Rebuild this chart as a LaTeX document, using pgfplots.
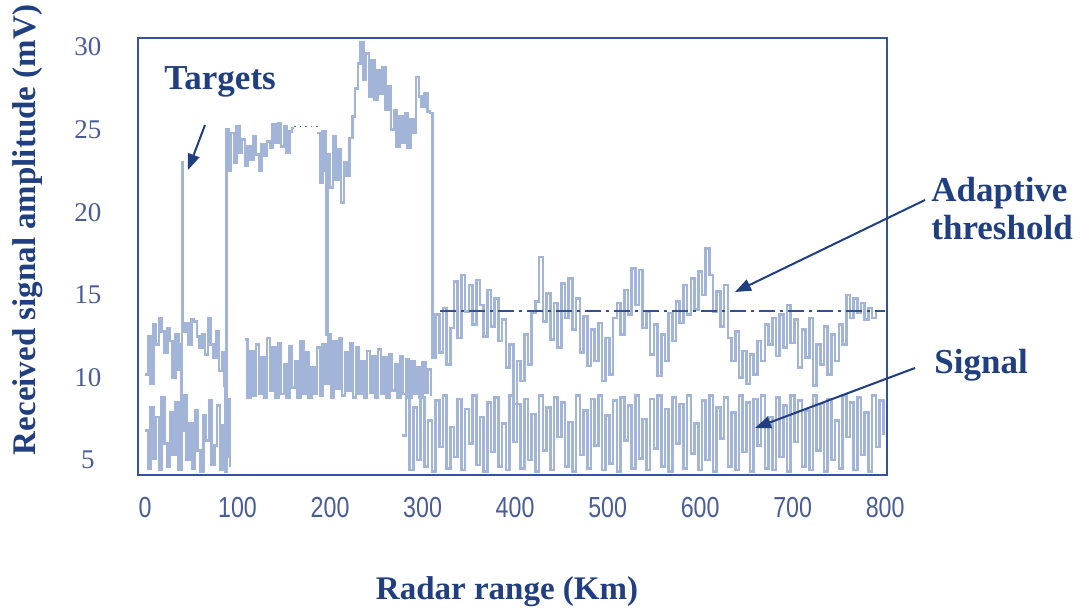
\documentclass[border=0pt]{standalone}
\usepackage{fontspec}
\setmainfont{Liberation Serif}
\newfontfamily\tickfont[FakeStretch=0.8]{Liberation Sans}
\usepackage{xcolor}
\usepackage{tikz}
\usetikzlibrary{arrows.meta}
\usepackage{pgfplots}
\pgfplotsset{compat=1.18}

\definecolor{navy}{HTML}{1F3F80}
\definecolor{framecol}{HTML}{3452A0}
\definecolor{ticktext}{HTML}{485C98}
\definecolor{trace}{HTML}{A3B4D9}
\definecolor{thrline}{HTML}{34508F}

\begin{document}
\begin{tikzpicture}
% page = 1081 x 609 px, 1 px = 0.5 pt, axis box from px (138,38) to (887,475)
\path[use as bounding box] (-69pt,-67pt) rectangle (471.5pt,237.5pt);
\begin{axis}[
  scale only axis,
  width=374.5pt, height=218.5pt,
  xmin=-7.6, xmax=802, ymin=4.1, ymax=30.55,
  xtick={0,100,...,800}, ytick={5,10,...,30},
  major tick length=0pt,
  axis line style={draw=framecol, line width=1pt},
  xticklabel style={anchor=center, yshift=-16.5pt, text=ticktext, font=\tickfont\fontsize{14.5}{16}\selectfont},
  yticklabel style={anchor=center, xshift=-25pt, text=ticktext, font=\fontsize{13.5}{15}\selectfont},
  /pgf/number format/assume math mode=true,
  xlabel={Radar range (Km)},
  ylabel={Received signal amplitude (mV)},
  label style={text=navy, font=\bfseries\fontsize{16.5}{19}\selectfont},
  xlabel style={at={(axis description cs:0.4927,-0.2677)}, anchor=center},
  ylabel style={at={(axis description cs:-0.1469,0.5606)}, anchor=center},
  clip=false,
  noise/.style={const plot, draw=trace, line width=1.3pt, mark=none},
]
% signal, near range
\addplot[noise] coordinates {(0,6.8)(3,4.5)(6,8.2)(9,5.1)(12,7.6)(15,4.4)(18,8.8)(21,6.0)(24,4.6)(27,7.9)
 (30,5.3)(33,8.5)(36,4.4)(39,6.8)(42,8.9)(45,5.0)(48,7.2)(51,4.5)(54,8.0)(57,5.6)(60,4.3)(63,7.7)
 (66,6.2)(69,8.6)(72,4.7)(75,5.9)(78,8.3)(81,4.4)(84,7.1)(87,5.2)(90,8.7)(92,4.6)};
% signal, extended target
\addplot[noise] coordinates {(108,12.3)(111,8.8)(114,11.6)(117,8.9)(120,12.0)(123,9.0)(126,11.2)(129,8.8)
 (132,12.4)(135,9.2)(138,11.8)(141,8.8)(144,12.1)(147,9.0)(150,10.8)(153,8.8)(156,11.9)(159,9.4)
 (162,11.0)(165,8.8)(168,12.2)(171,9.0)(174,11.5)(177,8.8)(180,10.6)(183,9.0)(186,11.8)(189,8.9)
 (192,12.0)(195,9.6)(198,12.6)(201,8.8)(204,12.2)(207,9.3)(210,12.4)(213,8.9)(216,11.5)(219,9.2)
 (222,12.1)(225,8.8)(228,11.8)(231,9.0)(234,11.0)(237,8.8)(240,11.6)(243,9.1)(246,11.3)(249,8.8)
 (252,11.7)(255,9.0)(258,11.2)(261,8.8)(264,11.4)(267,9.2)(270,10.8)(273,8.8)(276,11.3)(279,9.0)
 (282,11.1)(285,8.8)(288,11.0)(291,9.0)(294,10.6)(297,8.8)(300,10.9)(303,9.1)(306,10.5)(309,8.9)};
% signal, far range
\addplot[noise] coordinates {(278,6.5)(282,8.9)(286,4.4)(290,8.2)(294,5.0)(298,8.8)(302,4.6)(306,7.4)
 (310,4.3)(314,8.6)(318,5.8)(322,8.9)(326,4.5)(330,7.0)(334,5.2)(338,8.7)(342,4.4)(346,8.1)
 (350,6.0)(354,8.9)(358,4.7)(362,7.6)(366,4.3)(370,8.5)(374,5.5)(378,8.8)(382,4.6)(386,7.2)
 (390,4.4)(394,8.9)(398,6.1)(402,8.4)(406,4.5)(410,8.7)(414,5.0)(418,7.8)(422,4.3)(426,8.9)
 (430,5.6)(434,8.2)(438,4.4)(442,8.8)(446,6.4)(450,8.5)(454,4.6)(458,7.3)(462,4.3)(466,8.9)
 (470,5.3)(474,8.0)(478,4.5)(482,8.7)(486,5.9)(490,8.9)(494,4.4)(498,7.7)(502,4.8)(506,8.6)
 (510,4.3)(514,8.8)(518,6.2)(522,8.3)(526,4.5)(530,8.9)(534,5.1)(538,7.5)(542,4.4)(546,8.7)
 (550,5.7)(554,8.9)(558,4.6)(562,8.1)(566,4.3)(570,8.8)(574,6.0)(578,8.4)(582,4.5)(586,8.9)
 (590,5.4)(594,7.2)(598,4.4)(602,8.6)(606,5.0)(610,8.9)(614,4.3)(618,8.2)(622,6.3)(626,8.8)
 (630,4.6)(634,7.9)(638,4.4)(642,8.9)(646,5.5)(650,8.5)(654,4.3)(658,8.7)(662,5.9)(666,8.9)
 (670,4.5)(674,7.6)(678,4.4)(682,8.8)(686,5.2)(690,8.3)(694,4.3)(698,8.9)(702,6.1)(706,8.6)
 (710,4.6)(714,8.0)(718,4.4)(722,8.9)(726,5.6)(730,8.4)(734,4.3)(738,8.7)(742,5.0)(746,7.4)
 (750,4.5)(754,8.9)(758,6.4)(762,8.5)(766,4.4)(770,8.8)(774,5.3)(778,7.9)(782,4.3)(786,8.9)
 (790,5.8)(794,8.6)(798,6.5)};
% threshold trace, near range with the two targets
\addplot[noise] coordinates {(0,10.2)(3,12.5)(6,9.6)(9,13.2)(12,12.0)(15,13.6)(18,12.8)(21,11.5)(24,13.0)
 (27,12.2)(30,10.0)(33,12.6)(36,10.5)(39,12.0)(39.5,4.4)(40,23.0)(41,12.8)(44,13.3)(47,12.0)
 (50,13.5)(53,13.4)(56,12.5)(59,11.8)(62,12.6)(65,11.4)(68,13.6)(71,12.0)(74,11.2)(77,12.8)
 (80,10.4)(83,11.5)(86,9.5)(87,4.3)(88,25.0)(90,22.5)(93,24.8)(96,23.0)(99,25.2)(102,23.6)
 (105,24.4)(108,22.8)(111,24.0)(114,23.2)(117,24.6)(120,23.5)(123,22.5)(126,24.1)(129,23.4)
 (132,24.3)(135,23.9)(138,25.3)(141,24.2)(144,25.4)(147,24.0)(150,25.2)(153,23.6)(156,24.9)
 (159,25.1)(161,25.1)};
\addplot[sharp plot, draw=trace!60!black, line width=0.8pt, dotted, mark=none] coordinates {(161,25.2)(190,25.2)};
% threshold trace, extended target and far range
\addplot[noise] coordinates {(186,24.8)(189,21.8)(192,24.9)(195,22.5)(196,12.6)(197,23.5)(200,21.5)
 (203,24.6)(206,22.0)(209,23.8)(212,20.6)(215,23.0)(218,22.2)(221,24.5)(224,25.8)(227,27.5)
 (230,29.0)(233,30.3)(236,28.0)(239,29.6)(242,27.0)(245,29.2)(248,26.8)(251,28.6)(254,27.2)
 (257,28.8)(260,26.2)(263,27.6)(266,25.0)(269,26.2)(272,24.0)(275,25.8)(278,24.2)(281,26.0)
 (284,23.9)(287,25.6)(290,24.8)(293,28.2)(296,27.0)(299,26.4)(302,27.2)(305,26.1)(308,26.0)
 (311,11.2)(314,13.8)(318,11.5)(322,14.2)(326,10.8)(330,13.0)(334,15.8)(338,12.4)(342,16.2)
 (346,14.0)(350,15.6)(354,13.2)(358,15.9)(362,14.4)(366,12.5)(370,15.3)(374,13.1)(378,14.8)
 (382,12.2)(386,13.5)(390,10.6)(394,12.0)(398,8.4)(402,11.0)(406,9.8)(410,12.6)(414,10.8)
 (418,13.9)(422,14.6)(426,17.3)(430,13.4)(434,15.1)(438,12.3)(442,14.5)(446,11.8)(450,15.7)
 (454,13.6)(458,16.0)(462,12.9)(466,14.8)(470,11.5)(474,13.7)(478,10.7)(482,12.9)(486,11.0)
 (490,13.3)(494,9.8)(498,12.4)(502,10.2)(506,13.6)(510,14.5)(514,12.6)(518,15.3)(522,13.8)
 (526,16.6)(530,14.4)(534,16.5)(538,13.0)(542,14.0)(546,11.4)(550,13.2)(554,10.1)(558,12.6)
 (562,11.0)(566,13.9)(570,12.2)(574,14.6)(578,13.3)(582,15.6)(586,13.8)(590,16.0)(594,14.1)
 (598,16.4)(602,15.0)(606,17.8)(610,16.2)(614,14.0)(618,15.2)(622,13.1)(626,15.6)(630,12.4)
 (634,11.0)(638,12.8)(642,10.0)(646,11.6)(650,9.6)(654,11.4)(658,10.2)(662,12.2)(666,11.0)
 (670,13.2)(674,12.0)(678,13.6)(682,11.3)(686,13.8)(690,11.8)(694,14.4)(698,12.1)(702,13.5)
 (706,10.6)(710,12.9)(714,11.2)(718,13.6)(722,9.5)(726,12.0)(730,10.8)(734,13.1)(738,10.2)
 (742,12.6)(746,11.0)(750,13.2)(754,12.0)(758,15.0)(762,13.6)(766,14.8)(770,13.9)(774,14.5)
 (778,13.5)(782,14.2)(786,13.6)(790,14.0)};
% adaptive threshold level
\addplot[sharp plot, draw=thrline, line width=1pt, mark=none, dash pattern=on 8pt off 2.5pt on 1.5pt off 2.5pt]
 coordinates {(319,14.0)(800,14.0)};
\end{axis}
% annotations, in reference pixel coordinates
\begin{scope}[shift={(-69pt,237.5pt)}, x=0.5pt, y=-0.5pt]
  \tikzset{note/.style={text=navy, font=\bfseries\fontsize{17.5}{19}\selectfont, inner sep=0pt},
           pointer/.style={draw=navy, line width=1pt, -{Triangle[length=8pt,width=6pt]}}}
  \node[note] at (220,82) {Targets};
  \draw[pointer] (205,125) -- (188,170);
  \node[note, anchor=west, align=left] at (931,209) {Adaptive\\threshold};
  \draw[pointer] (925,200) -- (735,292);
  \node[note, anchor=west] at (934,365) {Signal};
  \draw[pointer] (915,368) -- (755,428);
\end{scope}
\end{tikzpicture}
\end{document}
